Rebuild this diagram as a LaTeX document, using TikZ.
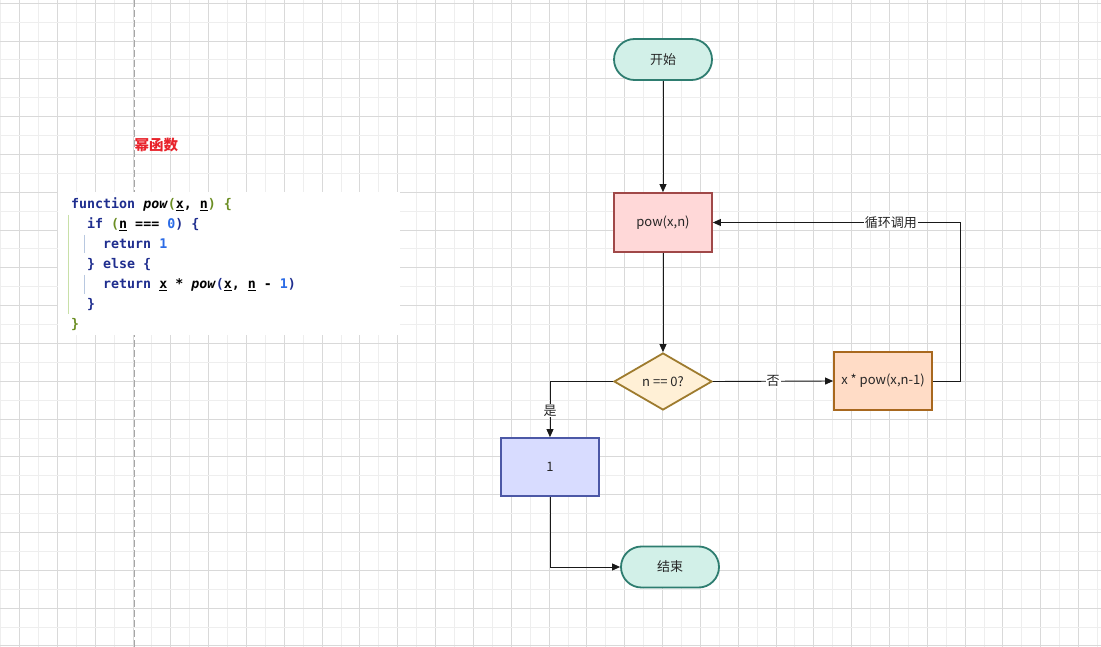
\documentclass[tikz,border=0pt]{standalone}
\usepackage{fontspec}
\usetikzlibrary{arrows.meta,shapes.geometric,calc}
\newfontfamily\cjk{Noto Sans CJK SC}
\newfontfamily\codefont{DejaVu Sans Mono}
\definecolor{gridD}{HTML}{D9D9D9}
\definecolor{gridL}{HTML}{EEEEEE}
\definecolor{tealF}{HTML}{D2F0E8}
\definecolor{tealS}{HTML}{2E7D70}
\definecolor{pinkF}{HTML}{FFD8D8}
\definecolor{pinkS}{HTML}{A04848}
\definecolor{diaF}{HTML}{FFF0D6}
\definecolor{diaS}{HTML}{9E7B2E}
\definecolor{peachF}{HTML}{FFDCC6}
\definecolor{peachS}{HTML}{A8681E}
\definecolor{lavF}{HTML}{D8DCFF}
\definecolor{lavS}{HTML}{4C58A6}
\definecolor{kwc}{HTML}{1F2E8F}
\definecolor{prc}{HTML}{6B8E23}
\definecolor{numc}{HTML}{2B6BE6}
\definecolor{titlec}{HTML}{E8232B}
\definecolor{guideG}{HTML}{C8E0A8}
\definecolor{guideB}{HTML}{B8C8E0}
\newcommand{\kwd}[1]{\textcolor{kwc}{#1}}
\newcommand{\prn}[1]{\textcolor{prc}{#1}}
\newcommand{\nmb}[1]{\textcolor{numc}{#1}}
\newcommand{\ulv}[1]{\underline{#1}}
\newcommand{\fnc}[1]{\textit{#1}}
\tikzset{
  base/.style={font=\cjk\fontsize{13}{15}\selectfont, text=black!85, line width=1.8pt, align=center, inner sep=0pt},
  term/.style={base, rectangle, rounded corners=20.5pt, minimum width=98pt, minimum height=41pt, draw=tealS, fill=tealF},
  procpink/.style={base, rectangle, minimum width=98pt, minimum height=59pt, draw=pinkS, fill=pinkF},
  procpeach/.style={base, rectangle, minimum width=98pt, minimum height=58pt, draw=peachS, fill=peachF},
  proclav/.style={base, rectangle, minimum width=98pt, minimum height=58pt, draw=lavS, fill=lavF},
  decis/.style={base, diamond, aspect=1.72, minimum width=98pt, minimum height=57pt, draw=diaS, fill=diaF, inner sep=0pt},
  arr/.style={draw=black!90, line width=0.9pt, -{Triangle[length=8pt,width=7pt]}},
  lbl/.style={font=\cjk\fontsize{13}{15}\selectfont, text=black!85, fill=white, inner sep=1pt},
  codeline/.style={anchor=base west, inner sep=0pt, font=\codefont\bfseries\fontsize{13.3}{16}\selectfont},
}
\begin{document}
\begin{tikzpicture}[x=1pt,y=-1pt]
\useasboundingbox (0,0) rectangle (1101,647);
\fill[white] (0,0) rectangle (1101,647);
% grid
\foreach \k in {0,...,58}{
  \pgfmathsetmacro{\xx}{0.7+\k*18.91}
  \pgfmathtruncatemacro{\od}{mod(\k,2)}
  \ifnum\od=1 \draw[gridD,line width=1pt] (\xx,0) -- (\xx,647); \else \draw[gridL,line width=1pt] (\xx,0) -- (\xx,647); \fi
}
\foreach \k in {0,...,34}{
  \pgfmathsetmacro{\yy}{3.3+\k*18.9}
  \pgfmathtruncatemacro{\od}{mod(\k,2)}
  \ifnum\od=0 \draw[gridD,line width=1pt] (0,\yy) -- (1101,\yy); \else \draw[gridL,line width=1pt] (0,\yy) -- (1101,\yy); \fi
}
\draw[black!35,line width=1pt,dash pattern=on 7pt off 3pt] (134.7,0) -- (134.7,647);
% code block
\fill[white] (58.3,192.5) rectangle (400,335);
\draw[guideG,line width=1pt] (68.7,215) -- (68.7,314);
\draw[guideB,line width=1pt] (84.3,235) -- (84.3,253);
\draw[guideB,line width=1pt] (84.3,275) -- (84.3,294);
\node[font=\cjk\bfseries\fontsize{14.5}{16}\selectfont, text=titlec, anchor=west, inner sep=0pt] (title) at (134.5,145) {幂函数};
\node[codeline] (c1) at (71,208.7) {\kwd{function} \fnc{pow}\prn{(}\ulv{x}, \ulv{n}\prn{)} \prn{\{}};
\node[codeline] (c2) at (87,228.7) {\kwd{if} \prn{(}\ulv{n} === \nmb{0}\kwd{)} \kwd{\{}};
\node[codeline] (c3) at (103,248.7) {\kwd{return} \nmb{1}};
\node[codeline] (c4) at (87,268.7) {\kwd{\} else \{}};
\node[codeline] (c5) at (103,288.7) {\kwd{return} \ulv{x} * \fnc{pow}\kwd{(}\ulv{x}, \ulv{n} - \nmb{1}\kwd{)}};
\node[codeline] (c6) at (87,308.7) {\kwd{\}}};
\node[codeline] (c7) at (71,328.7) {\prn{\}}};
% flowchart
\node[term] (start) at (663,59.5) {开始};
\node[procpink] (pow) at (663,222.5) {pow(x,n)};
\node[decis] (dec) at (663,381.5) {n == 0?};
\node[procpeach] (rec) at (883,381) {x * pow(x,n-1)};
\node[proclav] (one) at (550,467) {1};
\node[term] (stop) at (670,567) {结束};
\coordinate (loopx) at (960,0);
\draw[arr] (start) -- (pow);
\draw[arr] (pow) -- (dec);
\draw[arr] (dec.west) -| (one.north) node[lbl,pos=0.76] {是};
\draw[arr] (dec.east) -- (rec.west) node[lbl,midway] {否};
\draw[arr] (rec.east) -- (rec.east -| loopx) |- (pow.east) node[lbl,pos=0.64] {循环调用};
\draw[arr] (one.south) |- (stop.west);
\end{tikzpicture}
\end{document}
